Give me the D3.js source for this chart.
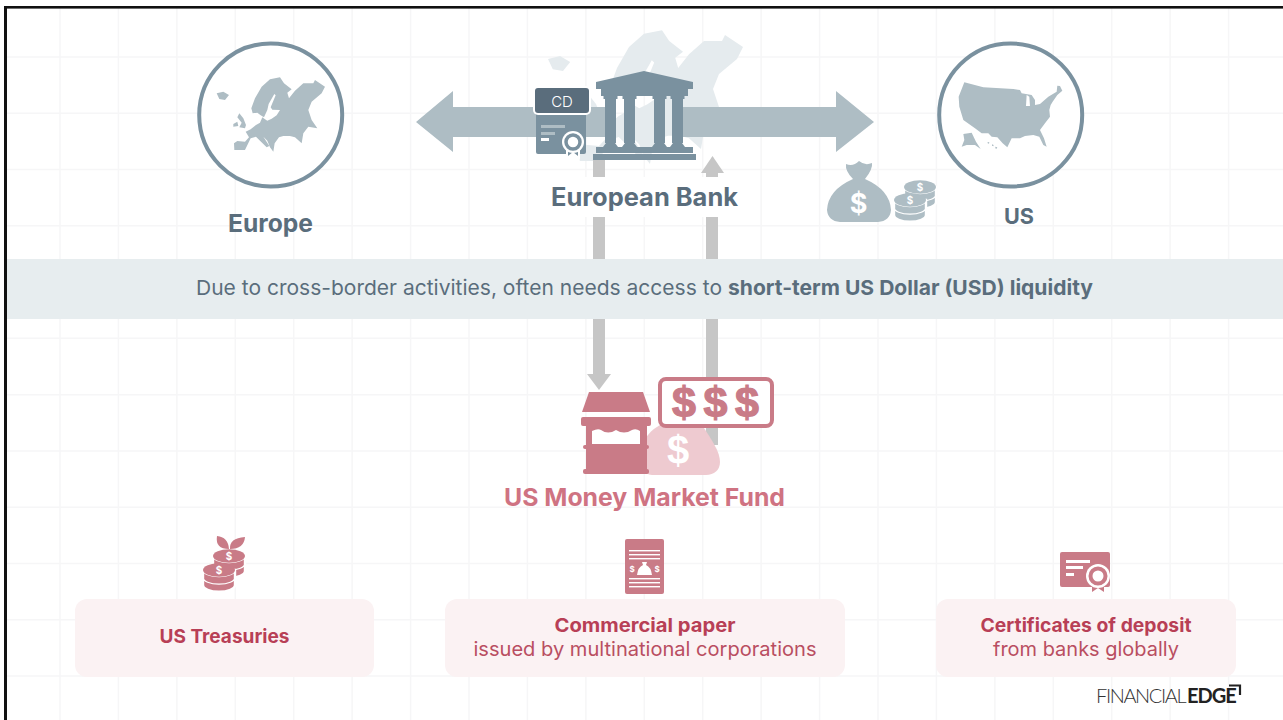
<!DOCTYPE html>
<html>
<head>
<meta charset="utf-8">
<script src="https://d3js.org/d3.v7.min.js"></script>
<style>
html, body { margin:0; padding:0; background:#fff; overflow:hidden; }
text { font-family:"Inter","Noto Sans",sans-serif; }
</style>
</head>
<body>
<div id="viz"></div>
<script>
// labels
var regions = ["Europe", "US"]
var bankLabel = "European Bank"
var fundLabel = "US Money Market Fund"
var bandPlain = "Due to cross-border activities, often needs access to"
var bandBold = "short-term US Dollar (USD) liquidity"
var cardTitles = ["US Treasuries", "Commercial paper", "Certificates of deposit"]
var cardSubs = ["", "issued by multinational corporations", "from banks globally"]
var dollars = ["$", "$", "$"]

var slate = "#7a919f", dark = "#5a6d7c", pale = "#aebdc4", faded = "#e5ebee"
var pink = "#c97b87", lightPink = "#eecad0", cardPink = "#fbf2f3", rose = "#b83f56", grey = "#c6c6c6"

var width = 1283, height = 720

var svg = d3.select("#viz").append("svg")
  .attr("width", width)
  .attr("height", height)
  .style("display", "block")

// outlines, same units as a 3x crop
var europePath = "M163,360L162,340L172,333L195,335L207,322L197,305L212,298L228,285L240,278L247,262L255,268L262,272L275,266L290,256L300,240L277,239L272,232L287,196L283,192L266,222L262,240L252,262L242,256L232,248L218,250L214,235L225,205L245,170L270,148L300,142L312,160L335,178L322,188L327,205L345,182L370,160L400,160L405,150L435,170L425,190L395,215L385,240L395,270L412,295L385,290L370,310L365,340L345,322L330,318L310,318L297,322L284,340L280,365L270,352L262,332L250,320L268,348L260,352L240,332L228,320L212,325L195,360Z"
  + "M178,250L190,265L198,285L195,295L178,292L185,278L172,262Z"
  + "M160,282L172,275L175,288L160,290Z"
  + "M110,190L130,185L147,195L135,210L118,207Z"
var usPath = "M133,157L190,172L280,177L300,180L305,190L335,195L345,210L345,225L360,222L385,200L410,185L412,167L420,168L427,182L412,195L398,215L392,225L388,240L390,260L375,280L360,300L372,325L380,350L370,345L358,320L340,315L315,318L300,325L275,325L262,352L248,340L232,322L215,320L205,310L185,310L165,295L130,270L118,230L116,200Z"
  + "M320,195L328,200L330,228L318,228Z"
  + "M130,312L155,308L168,335L182,357L165,345L140,345L125,350L133,330Z"
  + "M203,336L208,337L207,341L203,340ZM216,343L221,345L220,349L216,347ZM226,350L232,352L229,357L226,355Z"

function polygon(g, pts, fill) {
  return g.append("polygon").attr("points", pts.map(function(p){return p.join(",")}).join(" ")).attr("fill", fill)
}
function box(g, x, y, w, h, fill, r) {
  return g.append("rect").attr("x", x).attr("y", y).attr("width", w).attr("height", h).attr("fill", fill).attr("rx", r || 0)
}
function label(g, str, x, y, size, weight, fill, fit) {
  var t = g.append("text").text(str).attr("x", x).attr("y", y)
    .attr("font-size", size).attr("font-weight", weight).attr("fill", fill)
    .attr("text-anchor", "middle").attr("dominant-baseline", "central")
  if (fit) t.attr("textLength", fit).attr("lengthAdjust", "spacingAndGlyphs")
  return t
}

// Background grid ----
var gridX = d3.scaleLinear().domain([0, 21]).range([60, 1287])
var gridY = d3.scaleLinear().domain([0, 11]).range([57, 676])
var grid = svg.append("g").attr("stroke", "#f6f6f7").attr("stroke-width", 1.5)
grid.selectAll("line.v").data(d3.range(0, 21)).enter().append("line").attr("class", "v")
  .attr("x1", gridX).attr("x2", gridX).attr("y1", 8).attr("y2", height)
grid.selectAll("line.h").data(d3.range(0, 12)).enter().append("line").attr("class", "h")
  .attr("y1", gridY).attr("y2", gridY).attr("x1", 7).attr("x2", width)

// Frame ----
box(svg, 4, 6, 3, height - 6, "#111")
box(svg, 4, 6, width - 4, 2.6, "#111")

// Faded map behind the bank ----
svg.append("path").attr("d", europePath).attr("fill", faded).attr("fill-rule", "evenodd")
  .attr("transform", "translate(482,-55) scale(0.6)")

// Region circles ----
var regionX = d3.scalePoint().domain(regions).range([270.7, 1010.7])
svg.selectAll("circle.region").data(regions).enter().append("circle").attr("class", "region")
  .attr("cx", regionX).attr("cy", 115).attr("r", 71.5)
  .attr("fill", "#fff").attr("stroke", slate).attr("stroke-width", 4)
svg.append("path").attr("d", europePath).attr("fill", pale).attr("fill-rule", "evenodd")
  .attr("transform", "translate(180,30) scale(0.3333)")
svg.append("path").attr("d", usPath).attr("fill", pale).attr("fill-rule", "evenodd")
  .attr("transform", "translate(920,30) scale(0.3333)")
label(svg, regions[0], 270.5, 223, 24.5, 700, dark, 85)
label(svg, regions[1], 1019, 216, 22, 700, dark, 30)

// Big arrows left and right of the bank ----
polygon(svg, [[416,122],[453,91],[453,107],[607,107],[607,137],[453,137],[453,152]], pale)
polygon(svg, [[874,122],[836,91],[836,107],[682,107],[682,137],[836,137],[836,152]], pale)

// Grey arrows between bank and fund ----
box(svg, 593, 160, 12, 218, grey)
polygon(svg, [[587,374],[611,374],[599,390]], grey)
box(svg, 706, 173, 12, 272, grey)
polygon(svg, [[701,173],[724,173],[712.5,156]], grey)

// knock the arrows out behind the label and the band
box(svg, 540, 177, 210, 40, "#fff")
box(svg, 7, 259, width - 7, 60, "#e7edef")

label(svg, bankLabel, 644.5, 197, 25, 700, dark, 187)
label(svg, bandPlain, 459, 287.5, 20.5, 400, dark, 526)
label(svg, bandBold, 910.5, 287.5, 20.5, 700, dark, 365)

// Bank ----
var bank = svg.append("g").attr("fill", slate)
polygon(bank, [[644,71],[596,82],[693,82]], slate)
box(bank, 596, 82, 97, 7, slate)
box(bank, 601, 89, 87, 7, slate)
var pillarX = [605, 624, 654, 672]
pillarX.forEach(function(x) {
  box(bank, x - 1.5, 96, 14, 3, slate)
  box(bank, x, 97, 11, 46, slate)
  polygon(bank, [[x - 2,147],[x + 1,143],[x + 10,143],[x + 13,147]], slate)
})
box(bank, 596, 147, 97, 6, slate)
box(bank, 593, 154, 103, 6, slate)

// CD certificate ----
box(svg, 536, 113, 50, 41, slate, 2)
box(svg, 541, 125, 24, 3, pale)
box(svg, 541, 132, 14, 3, pale)
box(svg, 541, 138, 8, 3, "#fff")
box(svg, 533, 86, 58, 29, "#fff", 5)
box(svg, 535, 88, 54, 25, dark, 3)
label(svg, "CD", 562, 101, 15, 300, "#fff")
polygon(svg, [[566,146],[580,146],[580,159],[573,154],[566,159]], "#fff")
polygon(svg, [[568,146],[578,146],[578,156],[573,152],[568,156]], slate)
svg.append("circle").attr("cx", 573).attr("cy", 142).attr("r", 11).attr("fill", "#fff")
svg.append("circle").attr("cx", 573).attr("cy", 142).attr("r", 7).attr("fill", "#fff").attr("stroke", slate).attr("stroke-width", 3.5)

// Money bag and coins by the US ----
function moneyBag(g, cx, top, fill) {
  g.append("path").attr("fill", fill)
    .attr("d", "M" + (cx - 13) + "," + (top + 3) + "q7,3 13,-3q6,5 13,2q1,6 -7,16q25,11 26,31q-1,11 -13,12h-38q-12,-1 -13,-12q1,-20 26,-31q-8,-8 -7,-15z")
}
function coin(g, cx, cy, rx, stack, fill) {
  // stack of flat coins, white halo keeps it apart from the one behind
  var ry = rx * 0.42, h = stack * 7.5
  var side = "M" + (cx - rx) + "," + cy + "V" + (cy + h) + "A" + rx + "," + ry + " 0 0 0 " + (cx + rx) + "," + (cy + h) + "V" + cy + "Z"
  g.append("path").attr("d", side).attr("fill", fill).attr("stroke", "#fff").attr("stroke-width", 2.4)
  d3.range(0, stack).forEach(function(i) {
    g.append("path").attr("fill", "none").attr("stroke", "#fff").attr("stroke-width", 1.3)
      .attr("d", "M" + (cx - rx) + "," + (cy + i * 7.5) + "A" + rx + "," + ry + " 0 0 0 " + (cx + rx) + "," + (cy + i * 7.5))
  })
  g.append("ellipse").attr("cx", cx).attr("cy", cy).attr("rx", rx).attr("ry", ry).attr("fill", fill)
  g.append("text").text("$").attr("x", cx).attr("y", cy).attr("font-size", rx * 0.62).attr("font-weight", 700)
    .attr("fill", "#fff").attr("text-anchor", "middle").attr("dominant-baseline", "central")
}
var usd = svg.append("g")
moneyBag(usd, 859, 161, pale)
label(usd, "$", 858.5, 203, 27, 700, "#fff")
coin(usd, 920, 187, 16, 2, pale)
coin(usd, 910, 200, 16, 2, pale)

// Fund: shop, bag and $$$ sign ----
var shop = svg.append("g")
shop.append("path").attr("fill", lightPink)
  .attr("d", "M660,425H702C712,440 720,452 720,462C720,470 714,475 706,475H652Q645,475 645,468V440Q648,432 660,425Z")
polygon(shop, [[589,392],[643,392],[650,412],[582,412]], pink)
box(shop, 586, 417, 61, 56, pink, 2)
box(shop, 581, 417, 70, 9, pink, 2)
box(shop, 583, 445, 66, 4, pink, 2)
box(shop, 583, 469, 66, 5, pink, 2)
shop.append("path").attr("fill", "#fff")
  .attr("d", "M592,431Q598,428 601,430Q608,435 616,430Q624,435 632,430Q636,428 640,431V444H592Z")
label(shop, "$", 678, 450, 40, 700, "#fff").style("font-family", "'Liberation Sans'")
box(shop, 660, 379, 112, 47, "#fff", 6).attr("stroke", pink).attr("stroke-width", 4)
var signX = d3.scaleLinear().domain([0, 2]).range([684, 747])
shop.selectAll("text.sign").data(dollars).enter().append("text").attr("class", "sign")
  .text(function(d){return d})
  .attr("x", function(d, i){return signX(i)}).attr("y", 402)
  .attr("font-size", 43).attr("font-weight", 700).attr("fill", pink)
  .attr("stroke", pink).attr("stroke-width", 1.2)
  .attr("text-anchor", "middle").attr("dominant-baseline", "central")
  .style("font-family", "'Liberation Sans'")
label(svg, fundLabel, 644.5, 497, 24.5, 700, "#cf7382", 281)

// Cards ----
var cardX = [75, 445, 936], cardW = [299, 400, 300]
var titleFit = [130, 181, 211], subFit = [0, 343, 186]
var cards = svg.selectAll("g.card").data(cardTitles).enter().append("g").attr("class", "card")
cards.append("rect")
  .attr("x", function(d, i){return cardX[i]}).attr("y", 599)
  .attr("width", function(d, i){return cardW[i]}).attr("height", 78)
  .attr("rx", 12).attr("fill", cardPink)
cards.append("text").text(function(d){return d})
  .attr("x", function(d, i){return cardX[i] + cardW[i] / 2})
  .attr("y", function(d, i){return cardSubs[i] ? 625.5 : 636.5})
  .attr("font-size", 19).attr("font-weight", 700).attr("fill", rose)
  .attr("textLength", function(d, i){return titleFit[i]}).attr("lengthAdjust", "spacingAndGlyphs")
  .attr("text-anchor", "middle").attr("dominant-baseline", "central")
cards.filter(function(d, i){return cardSubs[i]}).append("text").text(function(d){return cardSubs[cardTitles.indexOf(d)]})
  .attr("x", function(d){return cardX[cardTitles.indexOf(d)] + cardW[cardTitles.indexOf(d)] / 2}).attr("y", 649)
  .attr("font-size", 19.5).attr("font-weight", 400).attr("fill", "#b94e61")
  .attr("textLength", function(d){return subFit[cardTitles.indexOf(d)]}).attr("lengthAdjust", "spacingAndGlyphs")
  .attr("text-anchor", "middle").attr("dominant-baseline", "central")

// Card icons ----
var icons = svg.append("g")
coin(icons, 229, 556, 16, 2, pink)
coin(icons, 219, 570, 16, 2, pink)
icons.append("path").attr("fill", pink).attr("d", "M229,549Q215,549 217,536Q228,537 229,549Z")
icons.append("path").attr("fill", pink).attr("d", "M230,549Q229,538 245,537Q244,549 230,549Z")

box(icons, 625, 539, 39, 55, pink, 2)
;[551, 555, 559].concat([579, 583, 587]).forEach(function(y) {
  box(icons, 629, y - 1, 31, 1.4, "#fff")
})
icons.append("path").attr("fill", "#fff").attr("d", "M642,562h5l-1,3q5,2 6,10h-15q1,-8 6,-10z")
label(icons, "$", 632, 569, 8, 700, "#fff")
label(icons, "$", 657, 569, 8, 700, "#fff")

box(icons, 1060, 552, 50, 35, pink, 2)
box(icons, 1066, 560, 24, 3, "#fff")
box(icons, 1066, 566, 17, 3, "#fff")
box(icons, 1066, 573, 8, 3, "#fff")
polygon(icons, [[1092,580],[1104,580],[1104,592],[1098,588],[1092,592]], pink)
icons.append("circle").attr("cx", 1098).attr("cy", 576).attr("r", 12).attr("fill", "#fff")
icons.append("circle").attr("cx", 1098).attr("cy", 576).attr("r", 7.5).attr("fill", "#fff").attr("stroke", pink).attr("stroke-width", 4)

// Logo ----
var logo = svg.append("g")
logo.append("text").text("FINANCIAL").attr("x", 1096).attr("y", 703)
  .attr("font-size", 20).attr("font-weight", 300).attr("fill", "#333")
  .attr("letter-spacing", -1.4).style("font-family", "Lato")
logo.append("text").text("EDGE").attr("x", 1187).attr("y", 703)
  .attr("font-size", 20).attr("font-weight", 700).attr("fill", "#222")
  .attr("letter-spacing", -1).style("font-family", "Lato")
logo.append("path").attr("d", "M1229,685.5H1240V695").attr("fill", "none").attr("stroke", "#222").attr("stroke-width", 2.2)
</script>
</body>
</html>
